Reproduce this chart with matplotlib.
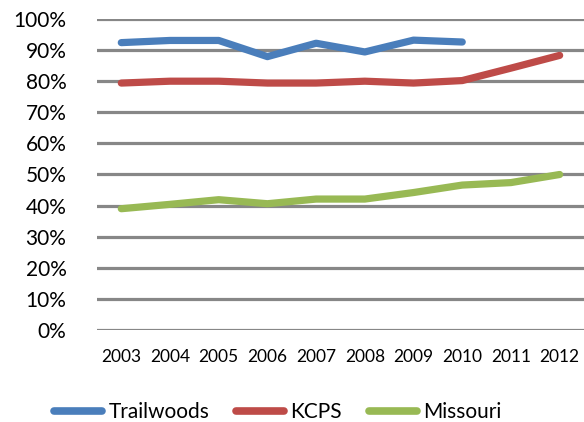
import matplotlib
matplotlib.use('Agg')
import matplotlib.pyplot as plt
from matplotlib.ticker import PercentFormatter

# === data ===
years = ['2003', '2004', '2005', '2006', '2007', '2008', '2009', '2010', '2011', '2012']
trailwoods = [92.4, 93.1, 93.1, 87.9, 92.2, 89.4, 93.2, 92.6]
kcps = [79.4, 80.0, 80.0, 79.4, 79.4, 80.0, 79.4, 80.2, 84.2, 88.3]
missouri = [39.0, 40.4, 41.9, 40.6, 42.1, 42.1, 44.2, 46.6, 47.4, 50.0]

plt.rcParams['font.family'] = ['Lato', 'DejaVu Sans']

fig = plt.figure(figsize=(5.84, 4.22), dpi=100)
ax = fig.add_axes([0.166, 0.218, 0.834, 0.737])

lw = 5.2
ax.plot(range(len(trailwoods)), trailwoods, color='#4A7EBB', lw=lw, label='Trailwoods',
        solid_capstyle='round', solid_joinstyle='round', zorder=3)
ax.plot(range(len(kcps)), kcps, color='#BE4B48', lw=lw, label='KCPS',
        solid_capstyle='round', solid_joinstyle='round', zorder=3)
ax.plot(range(len(missouri)), missouri, color='#98B954', lw=lw, label='Missouri',
        solid_capstyle='round', solid_joinstyle='round', zorder=3)

ax.set_xlim(-0.5, len(years) - 0.5)
ax.set_ylim(0, 100)
ax.set_yticks(range(0, 101, 10))
ax.yaxis.set_major_formatter(PercentFormatter(decimals=0))
ax.set_xticks(range(len(years)))
ax.set_xticklabels(years)
ax.grid(axis='y', color='#878787', lw=2.3, zorder=1)
ax.set_axisbelow(True)
for s in ax.spines.values():
    s.set_visible(False)
ax.tick_params(axis='y', length=0, pad=22, labelsize=15)
ax.tick_params(axis='x', length=0, pad=14, labelsize=12.5)

leg = fig.legend(loc='lower center', bbox_to_anchor=(0.476, -0.045), ncol=3, frameon=False,
                 fontsize=15, handlelength=2.3, handletextpad=0.3, columnspacing=1.3)
for h in leg.get_lines():
    h.set_linewidth(5.5)

fig.savefig('out.png', dpi=100)
